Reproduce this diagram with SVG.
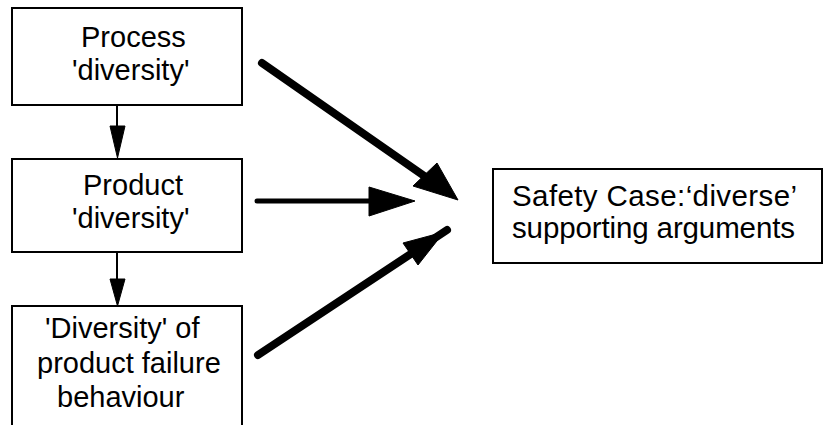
<svg xmlns="http://www.w3.org/2000/svg" width="825" height="425" viewBox="0 0 825 425">
  <style>
    .box { fill: #fff; stroke: #000; stroke-width: 2; }
    .lbl { font-family: "Liberation Sans", Arial, sans-serif; font-size: 29px; fill: #000; }
    .big { font-size: 29.5px; }
    .thin { stroke: #000; stroke-width: 2; fill: none; }
    .thick { stroke: #000; stroke-width: 8; stroke-linecap: round; fill: none; }
    .mid { stroke: #000; stroke-width: 5; stroke-linecap: round; fill: none; }
    .head { fill: #000; stroke: #000; stroke-width: 1; stroke-linejoin: round; }
  </style>
  <rect width="825" height="425" fill="#fff"/>

  <g id="process">
    <rect class="box" x="12" y="8" width="230" height="97"/>
    <text class="lbl" x="81" y="47">Process</text>
    <text class="lbl" x="72" y="80">'diversity'</text>
  </g>

  <g id="product">
    <rect class="box" x="12" y="159" width="230" height="93"/>
    <text class="lbl" x="83" y="195">Product</text>
    <text class="lbl" x="72" y="228">'diversity'</text>
  </g>

  <g id="failure">
    <rect class="box" x="12" y="306" width="230" height="140"/>
    <text class="lbl" x="45" y="338">'Diversity' of</text>
    <text class="lbl" x="37" y="373">product failure</text>
    <text class="lbl" x="57" y="407">behaviour</text>
  </g>

  <g id="safety-case">
    <rect class="box" x="493" y="169" width="329" height="94"/>
    <text class="lbl big" x="512" y="206" textLength="285" lengthAdjust="spacing">Safety Case:‘diverse’</text>
    <text class="lbl big" x="512" y="238" textLength="283" lengthAdjust="spacing">supporting arguments</text>
  </g>

  <g id="connectors">
    <!-- process to product -->
    <line class="thin" x1="117" y1="105" x2="117" y2="128"/>
    <polygon class="head" points="110,126 125,126 117.5,158"/>
    <!-- product to failure -->
    <line class="thin" x1="117" y1="252" x2="117" y2="280"/>
    <polygon class="head" points="110,279 125,279 117.5,306"/>
    <!-- process to safety case -->
    <line class="thick" x1="262" y1="63" x2="430" y2="180"/>
    <polygon class="head" points="413,186 437,163 458,200"/>
    <!-- product to safety case -->
    <line class="mid" x1="257" y1="201" x2="380" y2="201"/>
    <polygon class="head" points="369,187 369,216 415,201"/>
    <!-- failure to safety case -->
    <line class="thick" x1="258" y1="355" x2="447" y2="230"/>
    <polygon class="head" points="403,243 418,265 444,232"/>
  </g>
</svg>
